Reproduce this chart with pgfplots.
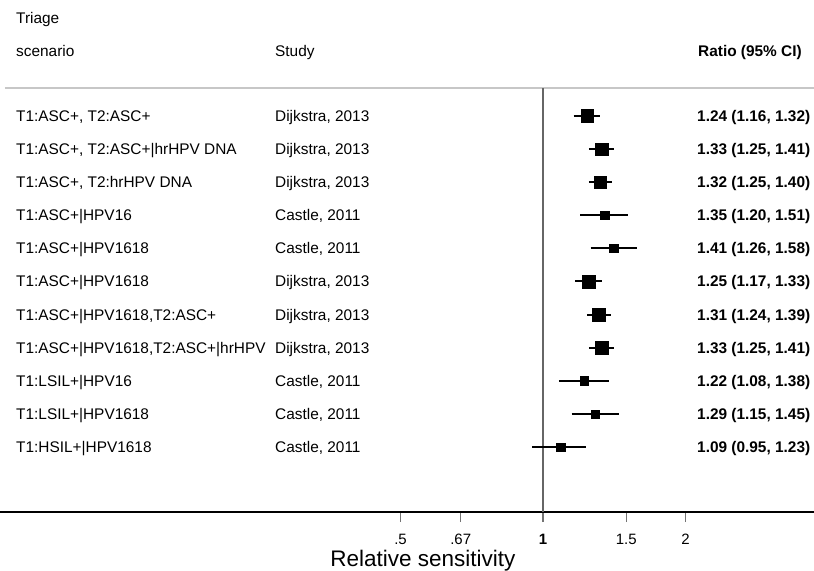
\documentclass[border=0pt]{standalone}
\usepackage{pgfplots}
\pgfplotsset{compat=1.18}
\usepackage{pgfplotstable}
\usepackage{fontspec}
\setmainfont{Liberation Sans}

% studies with large weight (large squares)
\pgfplotstableread{
y     est  lo   hi
396   1.24 1.16 1.32
362.9 1.33 1.25 1.41
329.8 1.32 1.25 1.40
230.5 1.25 1.17 1.33
197.4 1.31 1.24 1.39
164.3 1.33 1.25 1.41
}\bigdata
% studies with small weight (small squares)
\pgfplotstableread{
y     est  lo   hi
296.7 1.35 1.20 1.51
263.6 1.41 1.26 1.58
131.2 1.22 1.08 1.38
98.1  1.29 1.15 1.45
65    1.09 0.95 1.23
}\smalldata

\newcommand\txt[4][base west]{\node[anchor=#1,inner sep=0pt] at (axis description cs:{#2/814},{(#3-5.5)/512}) {#4};}
\newcommand\row[4]{\txt{16}{#1}{#2}\txt{275}{#1}{#3}\txt{697}{#1}{\textbf{#4}}}

\begin{document}
\fontsize{15.4bp}{18bp}\selectfont
\begin{tikzpicture}
\begin{axis}[
  scale only axis, width=814bp, height=512bp,
  xmode=log, xmin=0.07119, xmax=3.739,
  ymin=0, ymax=512,
  axis x line=bottom, axis y line=none,
  axis line style={-, line width=1.3bp, black},
  xtick={0.5,0.67,1,1.5,2},
  xticklabels={.5,.67,\textbf{1},1.5,2},
  /pgf/number format/assume math mode=true,
  tick align=outside, major tick length=10bp,
  minor tick num=0,
  xtick style={line width=1.2bp, black!55},
  xticklabel style={font=\fontsize{15bp}{18bp}\selectfont, anchor=base, inner sep=0pt, yshift=-22bp},
  clip=false,
]
\coordinate (BL) at (axis description cs:0,0);
\coordinate (TR) at (axis description cs:1,1);

% header rule and reference line
\draw[black!22, line width=1.5bp] (axis description cs:{5/814},{424/512}) -- (axis description cs:1,{424/512});
\addplot[black!60, line width=1.8bp] coordinates {(1,0) (1,424)};

% confidence intervals
\addplot[black, line width=2bp] coordinates {(1.16,396) (1.32,396)};
\addplot[black, line width=2bp] coordinates {(1.25,362.9) (1.41,362.9)};
\addplot[black, line width=2bp] coordinates {(1.25,329.8) (1.40,329.8)};
\addplot[black, line width=2bp] coordinates {(1.20,296.7) (1.51,296.7)};
\addplot[black, line width=2bp] coordinates {(1.26,263.6) (1.58,263.6)};
\addplot[black, line width=2bp] coordinates {(1.17,230.5) (1.33,230.5)};
\addplot[black, line width=2bp] coordinates {(1.24,197.4) (1.39,197.4)};
\addplot[black, line width=2bp] coordinates {(1.25,164.3) (1.41,164.3)};
\addplot[black, line width=2bp] coordinates {(1.08,131.2) (1.38,131.2)};
\addplot[black, line width=2bp] coordinates {(1.15,98.1) (1.45,98.1)};
\addplot[black, line width=2bp] coordinates {(0.95,65) (1.23,65)};

% point estimates
\addplot[only marks, mark=square*, mark size=6.3bp,
  mark options={draw=black, fill=black, line width=0.4bp}]
  table[x=est, y=y] {\bigdata};
\addplot[only marks, mark=square*, mark size=4.1bp,
  mark options={draw=black, fill=black, line width=0.4bp}]
  table[x=est, y=y] {\smalldata};

% header
\txt{16}{494}{Triage}
\txt{16}{461}{scenario}
\txt{275}{461}{Study}
\txt{698}{461}{\textbf{Ratio (95\% CI)}}

% rows
\row{396}{T1:ASC+, T2:ASC+}{Dijkstra, 2013}{1.24 (1.16, 1.32)}
\row{362.9}{T1:ASC+, T2:ASC+|hrHPV DNA}{Dijkstra, 2013}{1.33 (1.25, 1.41)}
\row{329.8}{T1:ASC+, T2:hrHPV DNA}{Dijkstra, 2013}{1.32 (1.25, 1.40)}
\row{296.7}{T1:ASC+|HPV16}{Castle, 2011}{1.35 (1.20, 1.51)}
\row{263.6}{T1:ASC+|HPV1618}{Castle, 2011}{1.41 (1.26, 1.58)}
\row{230.5}{T1:ASC+|HPV1618}{Dijkstra, 2013}{1.25 (1.17, 1.33)}
\row{197.4}{T1:ASC+|HPV1618,T2:ASC+}{Dijkstra, 2013}{1.31 (1.24, 1.39)}
\row{164.3}{T1:ASC+|HPV1618,T2:ASC+|hrHPV}{Dijkstra, 2013}{1.33 (1.25, 1.41)}
\row{131.2}{T1:LSIL+|HPV16}{Castle, 2011}{1.22 (1.08, 1.38)}
\row{98.1}{T1:LSIL+|HPV1618}{Castle, 2011}{1.29 (1.15, 1.45)}
\row{65}{T1:HSIL+|HPV1618}{Castle, 2011}{1.09 (0.95, 1.23)}

% axis title
\node[anchor=base, inner sep=0pt, font=\fontsize{22.5bp}{26bp}\selectfont] at (axis description cs:{423/814},0) [yshift=-54bp] {Relative sensitivity};
\end{axis}
\pgfresetboundingbox
\path[use as bounding box] ([yshift=-59bp]BL) rectangle (TR);
\end{tikzpicture}
\end{document}
